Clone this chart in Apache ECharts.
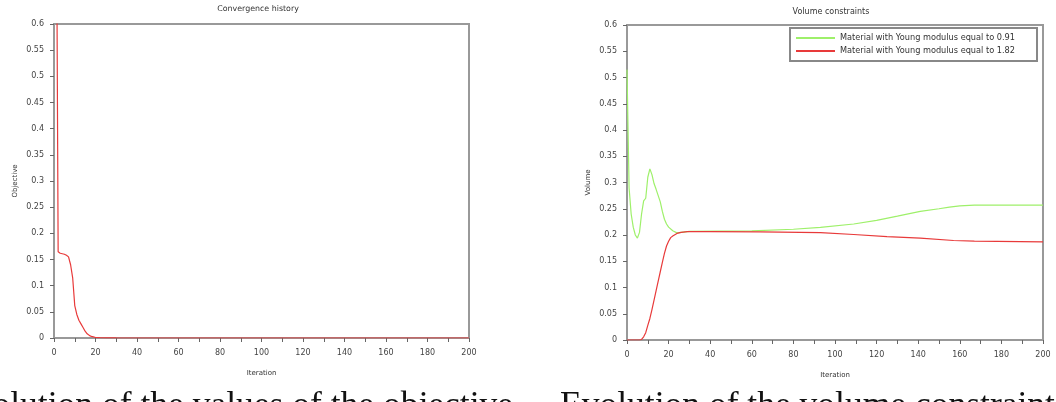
<!DOCTYPE html>
<html>
<head>
<meta charset="utf-8">
<script src="https://cdn.jsdelivr.net/npm/echarts@6/dist/echarts.min.js"></script>
<style>
html,body{margin:0;padding:0;background:#fff;}
#main{width:1056px;height:402px;}
</style>
</head>
<body>
<div id="main"></div>
<script>
// ---- data ----
var objIter = [0, 1, 2, 3, 4, 5, 6, 7, 8, 9, 10, 11, 12, 13, 14, 15, 16, 17, 18, 19, 20, 22, 25, 30, 200];
var objVal  = [1.2, 1.0, 0.165, 0.162, 0.161, 0.160, 0.158, 0.155, 0.140, 0.115, 0.062, 0.045, 0.034, 0.027, 0.020, 0.013, 0.008, 0.005, 0.003, 0.002, 0.001, 0.0006, 0.0003, 0.0001, 0];

var greenIter = [0, 1, 2, 3, 4, 5, 6, 7, 8, 9, 10, 11, 12, 13, 14, 15, 16, 17, 18, 19, 20, 22, 24, 26, 30, 60, 80, 93, 109, 120, 130, 141, 150, 155, 160, 167, 200];
var greenVal  = [0.515, 0.29, 0.24, 0.215, 0.2, 0.194, 0.205, 0.24, 0.265, 0.27, 0.31, 0.326, 0.315, 0.298, 0.287, 0.275, 0.263, 0.245, 0.23, 0.221, 0.215, 0.208, 0.204, 0.205, 0.207, 0.208, 0.211, 0.2146, 0.221, 0.228, 0.236, 0.245, 0.25, 0.253, 0.2555, 0.257, 0.257];

var redIter = [0, 6, 7, 8, 9, 10, 11, 12, 13, 14, 15, 16, 17, 18, 19, 20, 21, 22, 24, 26, 29, 40, 64, 93, 109, 125, 141, 157, 167, 200];
var redVal  = [0, 0, 0.001, 0.006, 0.014, 0.028, 0.041, 0.058, 0.076, 0.094, 0.112, 0.13, 0.148, 0.165, 0.179, 0.188, 0.195, 0.198, 0.203, 0.205, 0.2065, 0.2065, 0.206, 0.2045, 0.201, 0.197, 0.194, 0.1895, 0.1885, 0.187];

var titles = ['Convergence history', 'Volume constraints'];
var yNames = ['Objective', 'Volume'];
var xName = 'Iteration';
var seriesNames = ['Material with Young modulus equal to 0.91', 'Material with Young modulus equal to 1.82'];
var captions = ['Evolution of the values of the objective', 'Evolution of the volume constraints'];

function pairs(xs, ys) { return xs.map(function (x, i) { return [x, ys[i]]; }); }

var FONT = 'DejaVu Sans';
var AX = '#999999';

function xAxisCfg(gi) {
  return {
    gridIndex: gi, type: 'value', min: 0, max: 200, interval: 20,
    name: xName, nameLocation: 'middle', nameGap: 32,
    nameTextStyle: { fontFamily: FONT, fontSize: 7, color: '#333' },
    axisLine: { show: true, lineStyle: { color: AX, width: 2 } },
    axisTick: { show: true, length: 4, lineStyle: { color: '#666', width: 1 } },
    minorTick: { show: true, splitNumber: 2, length: 4, lineStyle: { color: '#666', width: 1 } },
    axisLabel: { fontFamily: FONT, fontSize: 8, color: '#444', margin: 11 },
    splitLine: { show: false }
  };
}
function yAxisCfg(gi) {
  return {
    gridIndex: gi, type: 'value', min: 0, max: 0.6, interval: 0.05,
    name: yNames[gi], nameLocation: 'middle', nameGap: 35,
    nameTextStyle: { fontFamily: FONT, fontSize: 7, color: '#333' },
    axisLine: { show: true, lineStyle: { color: AX, width: 2 } },
    axisTick: { show: true, length: 4, lineStyle: { color: '#666', width: 1 } },
    axisLabel: { fontFamily: FONT, fontSize: 8, color: '#444', margin: 10 },
    splitLine: { show: false }
  };
}

var chart = echarts.init(document.getElementById('main'), null, { renderer: 'canvas' });
chart.setOption({
  backgroundColor: '#fff',
  animation: false,
  title: [
    { text: titles[0], left: 253, top: 0, textAlign: 'center',
      textStyle: { fontFamily: FONT, fontSize: 7.9, fontWeight: 'normal', color: '#333' } },
    { text: titles[1], left: 826, top: 3, textAlign: 'center',
      textStyle: { fontFamily: FONT, fontSize: 8, fontWeight: 'normal', color: '#333' } }
  ],
  grid: [
    { left: 54, right: 587, top: 24, bottom: 64, show: true, borderColor: AX, borderWidth: 2, backgroundColor: 'transparent' },
    { left: 627, right: 13, top: 25, bottom: 62, show: true, borderColor: AX, borderWidth: 2, backgroundColor: 'transparent' }
  ],
  xAxis: [xAxisCfg(0), xAxisCfg(1)],
  yAxis: [yAxisCfg(0), yAxisCfg(1)],
  legend: {
    data: seriesNames,
    orient: 'vertical', left: 790, top: 28,
    itemWidth: 39, itemHeight: 2, itemGap: 5, icon: 'rect',
    padding: [6, 22, 6, 6],
    borderColor: '#888', borderWidth: 2, backgroundColor: '#fff',
    textStyle: { fontFamily: FONT, fontSize: 8.2, color: '#333' }
  },
  series: [
    { type: 'line', name: 'Objective', xAxisIndex: 0, yAxisIndex: 0, data: pairs(objIter, objVal),
      showSymbol: false, clip: true, lineStyle: { color: '#e83a3a', width: 1.2 }, itemStyle: { color: '#e83a3a' } },
    { type: 'line', name: seriesNames[0], xAxisIndex: 1, yAxisIndex: 1, data: pairs(greenIter, greenVal),
      showSymbol: false, clip: true, lineStyle: { color: '#9ef06a', width: 1.2 }, itemStyle: { color: '#9ef06a' } },
    { type: 'line', name: seriesNames[1], xAxisIndex: 1, yAxisIndex: 1, data: pairs(redIter, redVal),
      showSymbol: false, clip: true, lineStyle: { color: '#e83a3a', width: 1.2 }, itemStyle: { color: '#e83a3a' } }
  ],
  graphic: [
    { type: 'text', x: 513, y: 407, style: { text: captions[0], align: 'right', verticalAlign: 'middle',
      font: '35.5px "Liberation Serif"', fill: '#111' } },
    { type: 'text', x: 560, y: 407, style: { text: captions[1], align: 'left', verticalAlign: 'middle',
      font: '35.5px "Liberation Serif"', fill: '#111' } }
  ]
});
</script>
</body>
</html>
